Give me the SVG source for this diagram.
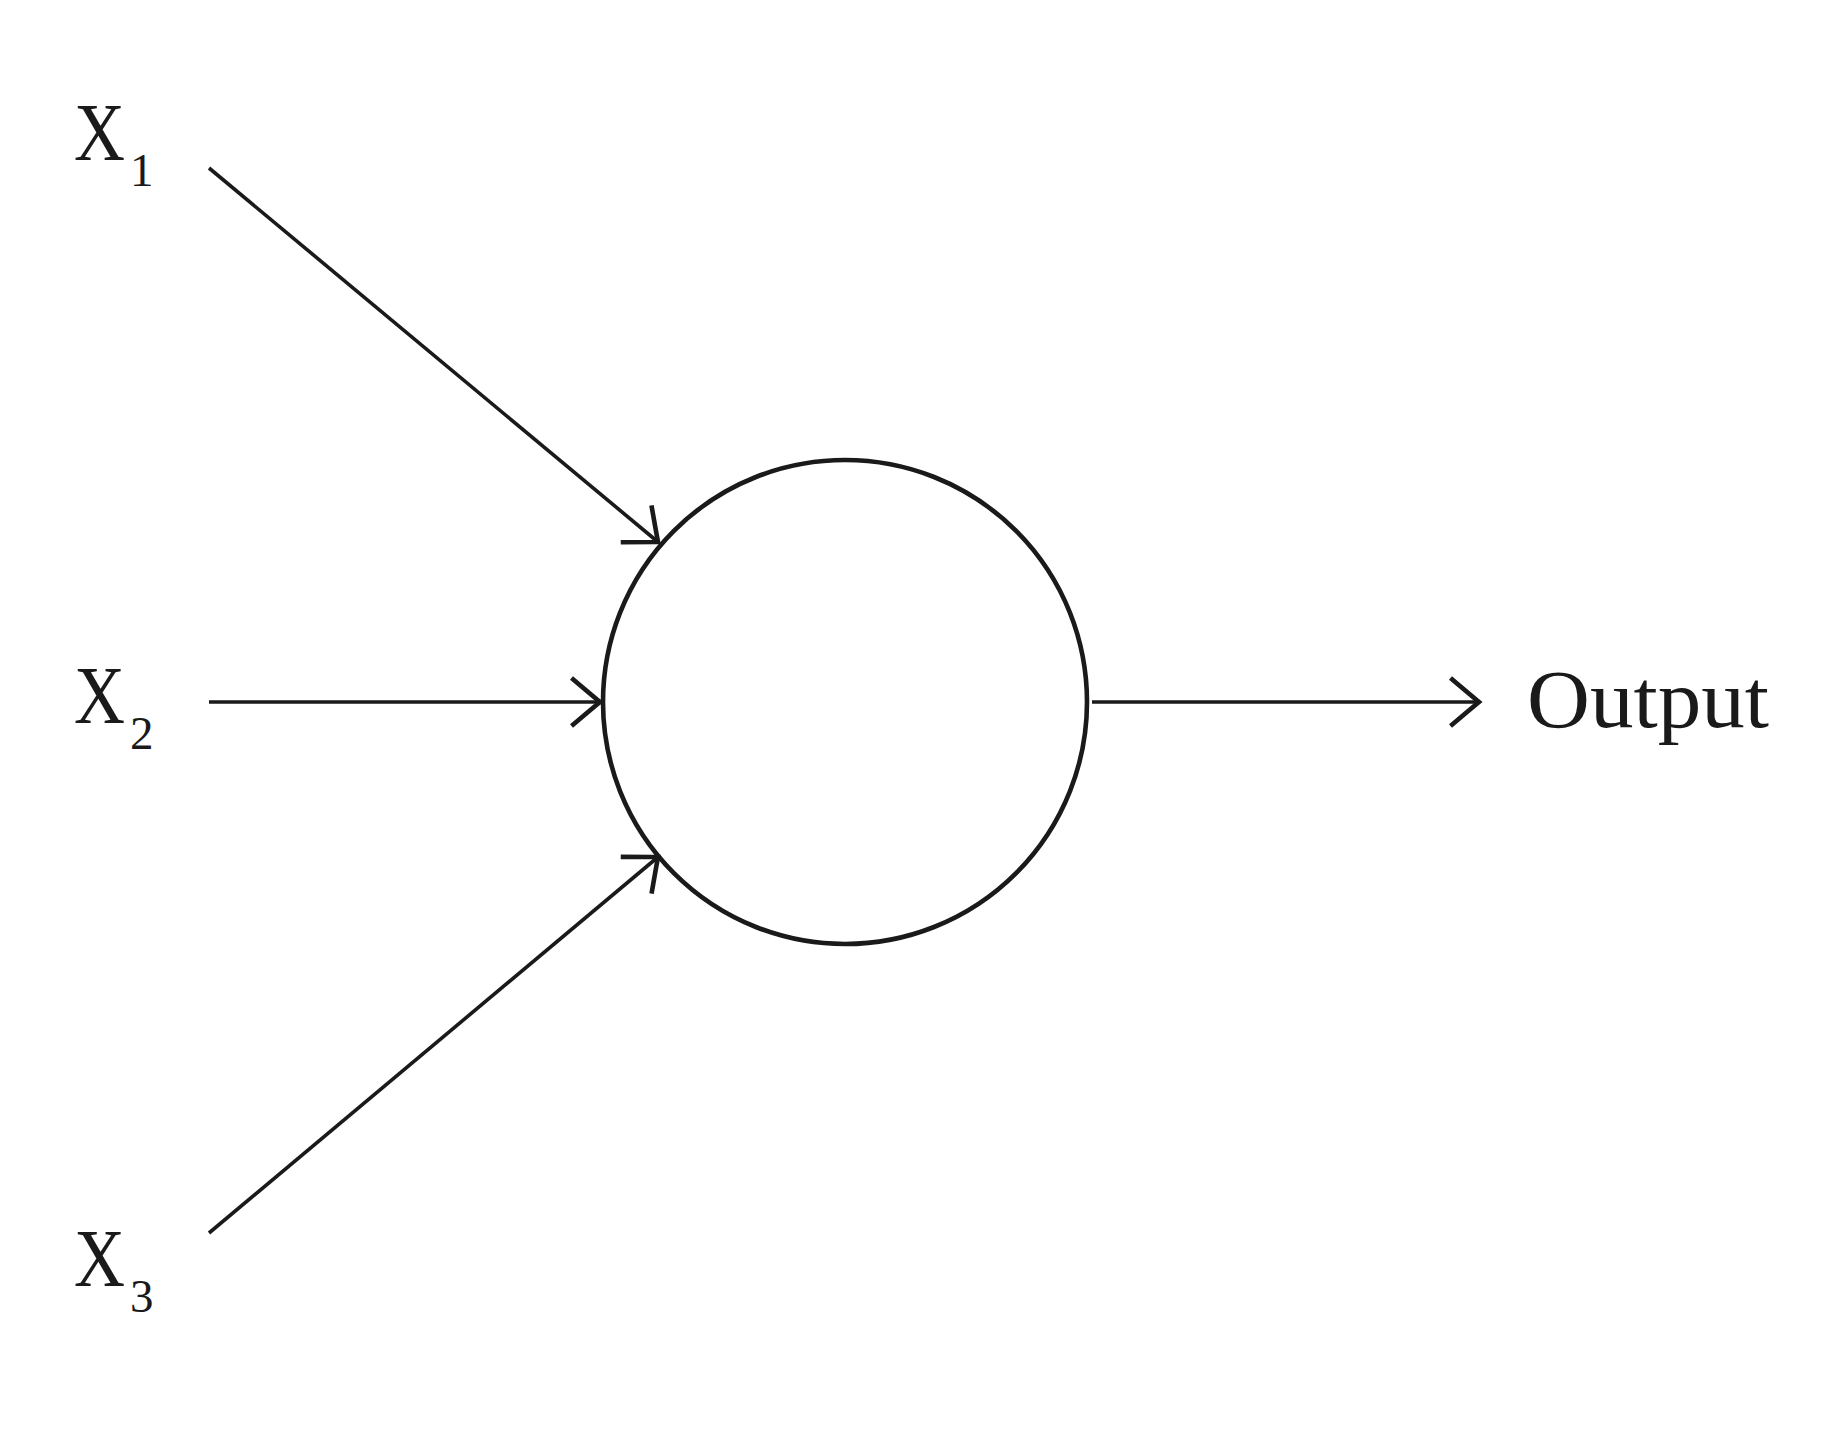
<svg xmlns="http://www.w3.org/2000/svg" width="1826" height="1446" viewBox="0 0 1826 1446">
  <style>
    .lbl { font-family: "Liberation Serif", "DejaVu Serif", serif; fill: #1a1a1a; font-size: 83px; }
    .sub { font-size: 47px; }
    .edge { stroke: #1a1a1a; stroke-width: 3.6; fill: none; }
  </style>
  <defs>
    <marker id="to" markerUnits="userSpaceOnUse" markerWidth="60" markerHeight="60" viewBox="-40 -30 50 60" refX="0" refY="0" orient="auto">
      <path d="M -28.5 -24 Q -12 -10 0 0 Q -12 10 -28.5 24" fill="none" stroke="#1a1a1a" stroke-width="4.6" stroke-linejoin="miter"/>
    </marker>
  </defs>
  <rect width="1826" height="1446" fill="#ffffff"/>
  <g id="x1">
    <text class="lbl" x="74" y="160"><tspan textLength="51" lengthAdjust="spacingAndGlyphs">X</tspan><tspan class="sub" x="130" dy="26">1</tspan></text>
  </g>
  <g id="x2">
    <text class="lbl" x="74" y="723"><tspan textLength="51" lengthAdjust="spacingAndGlyphs">X</tspan><tspan class="sub" x="130" dy="26">2</tspan></text>
  </g>
  <g id="x3">
    <text class="lbl" x="74" y="1286"><tspan textLength="51" lengthAdjust="spacingAndGlyphs">X</tspan><tspan class="sub" x="130" dy="26">3</tspan></text>
  </g>
  <g id="neuron">
    <circle cx="845" cy="702" r="242" fill="none" stroke="#1a1a1a" stroke-width="4.6"/>
  </g>
  <g id="output">
    <text class="lbl" x="1527" y="727" font-size="85" textLength="242" lengthAdjust="spacingAndGlyphs">Output</text>
  </g>
  <g id="connectors">
    <line class="edge" x1="209" y1="168" x2="658" y2="542" marker-end="url(#to)"/>
    <line class="edge" x1="209" y1="702" x2="600" y2="702" marker-end="url(#to)"/>
    <line class="edge" x1="209" y1="1233" x2="658" y2="857" marker-end="url(#to)"/>
    <line class="edge" x1="1092" y1="702" x2="1479" y2="702" marker-end="url(#to)"/>
  </g>
</svg>
